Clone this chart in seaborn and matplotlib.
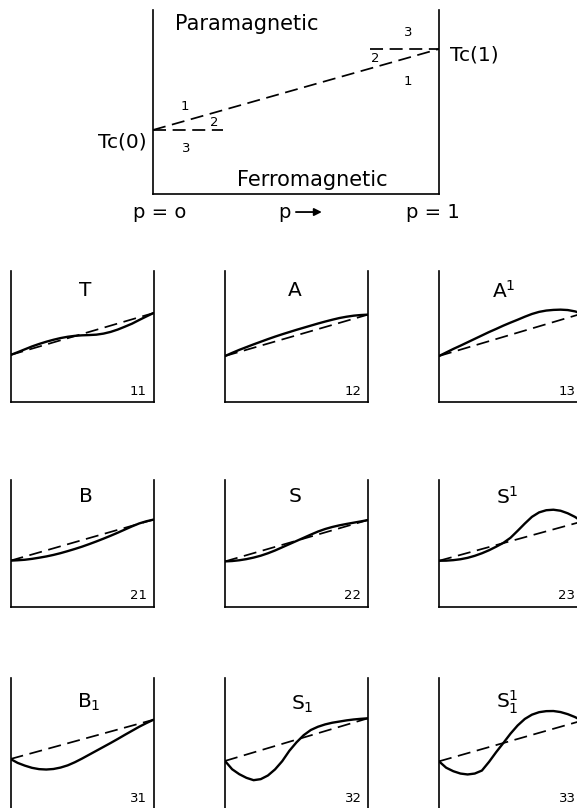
import matplotlib
matplotlib.use("Agg")
import matplotlib.pyplot as plt
import numpy as np
import pandas as pd
import seaborn as sns

# ---------------- data ----------------
# top phase diagram (fractions of the axes)
p_line = [0.0, 1.0]
tc_line = [0.348, 0.788]
tc0_stub_p = [0.0, 0.245]
tc1_stub_p = [0.76, 1.0]
region_labels = ["Paramagnetic", "Ferromagnetic"]
p_labels = ["p = o", "p", "p = 1"]

# small panels
x_grid = [0.0, 0.05, 0.1, 0.15, 0.2, 0.25, 0.3, 0.35, 0.4, 0.45, 0.5,
          0.55, 0.6, 0.65, 0.7, 0.75, 0.8, 0.85, 0.9, 0.95, 1.0]
panel_ids = ["11", "12", "13", "21", "22", "23", "31", "32", "33"]
panel_names = ["T", "A", "A$^{1}$", "B", "S", "S$^{1}$", "B$_{1}$", "S$_{1}$", "S$_{1}^{1}$"]
dash_start = [0.359, 0.351, 0.351, 0.365, 0.359, 0.364, 0.377, 0.362, 0.359]
dash_end = [0.679, 0.667, 0.675, 0.688, 0.685, 0.673, 0.679, 0.690, 0.672]
curve_T = [0.359, 0.380, 0.402, 0.424, 0.443, 0.460, 0.475, 0.488, 0.498, 0.505, 0.509,
           0.511, 0.514, 0.522, 0.535, 0.553, 0.575, 0.598, 0.626, 0.653, 0.679]
curve_A = [0.351, 0.375, 0.398, 0.419, 0.440, 0.460, 0.480, 0.499, 0.517, 0.534, 0.551,
           0.567, 0.583, 0.599, 0.614, 0.628, 0.641, 0.651, 0.659, 0.664, 0.667]
curve_A1 = [0.351, 0.378, 0.405, 0.430, 0.456, 0.482, 0.508, 0.534, 0.558, 0.583, 0.606,
            0.628, 0.651, 0.672, 0.688, 0.698, 0.703, 0.705, 0.702, 0.692, 0.675]
curve_B = [0.365, 0.368, 0.372, 0.379, 0.388, 0.398, 0.410, 0.424, 0.440, 0.457, 0.475,
           0.495, 0.516, 0.538, 0.561, 0.585, 0.610, 0.635, 0.658, 0.675, 0.688]
curve_S = [0.359, 0.362, 0.368, 0.377, 0.389, 0.404, 0.423, 0.445, 0.470, 0.495, 0.520,
           0.545, 0.570, 0.594, 0.614, 0.630, 0.643, 0.654, 0.664, 0.674, 0.685]
curve_S1 = [0.364, 0.365, 0.369, 0.376, 0.387, 0.403, 0.423, 0.447, 0.475, 0.505, 0.545,
            0.600, 0.657, 0.710, 0.745, 0.762, 0.766, 0.758, 0.738, 0.710, 0.673]
curve_B_1 = [0.377, 0.347, 0.326, 0.309, 0.299, 0.296, 0.300, 0.311, 0.328, 0.352, 0.380,
             0.410, 0.440, 0.470, 0.500, 0.531, 0.563, 0.594, 0.625, 0.653, 0.679]
curve_S_1 = [0.362, 0.298, 0.260, 0.232, 0.214, 0.222, 0.250, 0.297, 0.360, 0.440, 0.505,
             0.560, 0.600, 0.625, 0.643, 0.656, 0.665, 0.674, 0.681, 0.686, 0.690]
curve_S_11 = [0.359, 0.310, 0.283, 0.265, 0.258, 0.265, 0.288, 0.355, 0.430, 0.500, 0.572,
              0.635, 0.685, 0.718, 0.737, 0.745, 0.746, 0.738, 0.722, 0.700, 0.672]
curves = [curve_T, curve_A, curve_A1, curve_B, curve_S, curve_S1, curve_B_1, curve_S_1, curve_S_11]

# ---------------- figure ----------------
sns.set_style("white")
plt.rcParams["font.family"] = ["DejaVu Sans"]
plt.rcParams["mathtext.default"] = "regular"
plt.rcParams["text.color"] = "black"

W, H = 577, 808
fig = plt.figure(figsize=(W / 100, H / 100), dpi=100)
fig.patch.set_facecolor("white")

def box(left, top, width, height):
    return [left / W, (H - top - height) / H, width / W, height / H]

def style_axes(ax, bottom=True):
    ax.set_xlim(0, 1)
    ax.set_ylim(0, 1)
    ax.set_xticks([])
    ax.set_yticks([])
    ax.set_xlabel("")
    ax.set_ylabel("")
    ax.spines["top"].set_visible(False)
    ax.spines["bottom"].set_visible(bottom)
    for s in ["left", "right", "bottom"]:
        ax.spines[s].set_color("black")
        ax.spines[s].set_linewidth(1.2)
    ax.set_facecolor("none")

DASH = (0, (7.5, 3.8))

# top phase diagram
ax0 = fig.add_axes(box(153, 10, 286, 184))
sns.lineplot(x=p_line, y=tc_line, ax=ax0, color="black", lw=1.25, linestyle=DASH)
sns.lineplot(x=tc0_stub_p, y=[tc_line[0]] * 2, ax=ax0, color="black", lw=1.25, linestyle=DASH)
sns.lineplot(x=tc1_stub_p, y=[tc_line[1]] * 2, ax=ax0, color="black", lw=1.25, linestyle=DASH)
style_axes(ax0)
ax0.text(0.329, 0.924, region_labels[0], ha="center", va="center", fontsize=15)
ax0.text(0.556, 0.076, region_labels[1], ha="center", va="center", fontsize=15)
ax0.text(-0.024, 0.283, "Tc(0)", ha="right", va="center", fontsize=14.5, clip_on=False)
ax0.text(1.038, 0.755, "Tc(1)", ha="left", va="center", fontsize=14.5, clip_on=False)
ax0.text(0.024, -0.103, p_labels[0], ha="center", va="center", fontsize=14, clip_on=False)
ax0.text(0.46, -0.103, p_labels[1], ha="center", va="center", fontsize=14, clip_on=False)
ax0.annotate("", xy=(0.60, -0.098), xytext=(0.49, -0.098), xycoords="axes fraction",
             arrowprops=dict(arrowstyle="-|>", color="black", lw=1.3, mutation_scale=11))
ax0.text(0.979, -0.103, p_labels[2], ha="center", va="center", fontsize=14, clip_on=False)
small_nums = [("1", 0.112, 0.473), ("2", 0.213, 0.391), ("3", 0.115, 0.245),
              ("3", 0.892, 0.875), ("2", 0.776, 0.739), ("1", 0.892, 0.614)]
for t, xx, yy in small_nums:
    ax0.text(xx, yy, t, ha="center", va="center", fontsize=9.5)

# small panels
col_left = [10.5, 225, 439]
row_top = [271, 480, 678]
row_h = [131, 127, 130]
name_pos = [(0.52, 0.85), (0.49, 0.85), (0.45, 0.85),
            (0.53, 0.87), (0.49, 0.87), (0.48, 0.87),
            (0.55, 0.81), (0.54, 0.80), (0.48, 0.81)]
id_pos = [0.08, 0.08, 0.08, 0.09, 0.09, 0.09, 0.07, 0.07, 0.07]
for i in range(9):
    r, c = divmod(i, 3)
    ax = fig.add_axes(box(col_left[c], row_top[r], 143, row_h[r]))
    sns.lineplot(x=[0.0, 1.0], y=[dash_start[i], dash_end[i]], ax=ax, color="black",
                 lw=1.25, linestyle=DASH)
    sns.lineplot(x=x_grid, y=curves[i], ax=ax, color="black", lw=1.7)
    style_axes(ax, bottom=(r < 2))
    ax.text(name_pos[i][0], name_pos[i][1], panel_names[i], ha="center", va="center", fontsize=14.5)
    ax.text(0.895, id_pos[i], panel_ids[i], ha="center", va="center", fontsize=9.5)

fig.savefig("out.png", dpi=100, facecolor="white")
